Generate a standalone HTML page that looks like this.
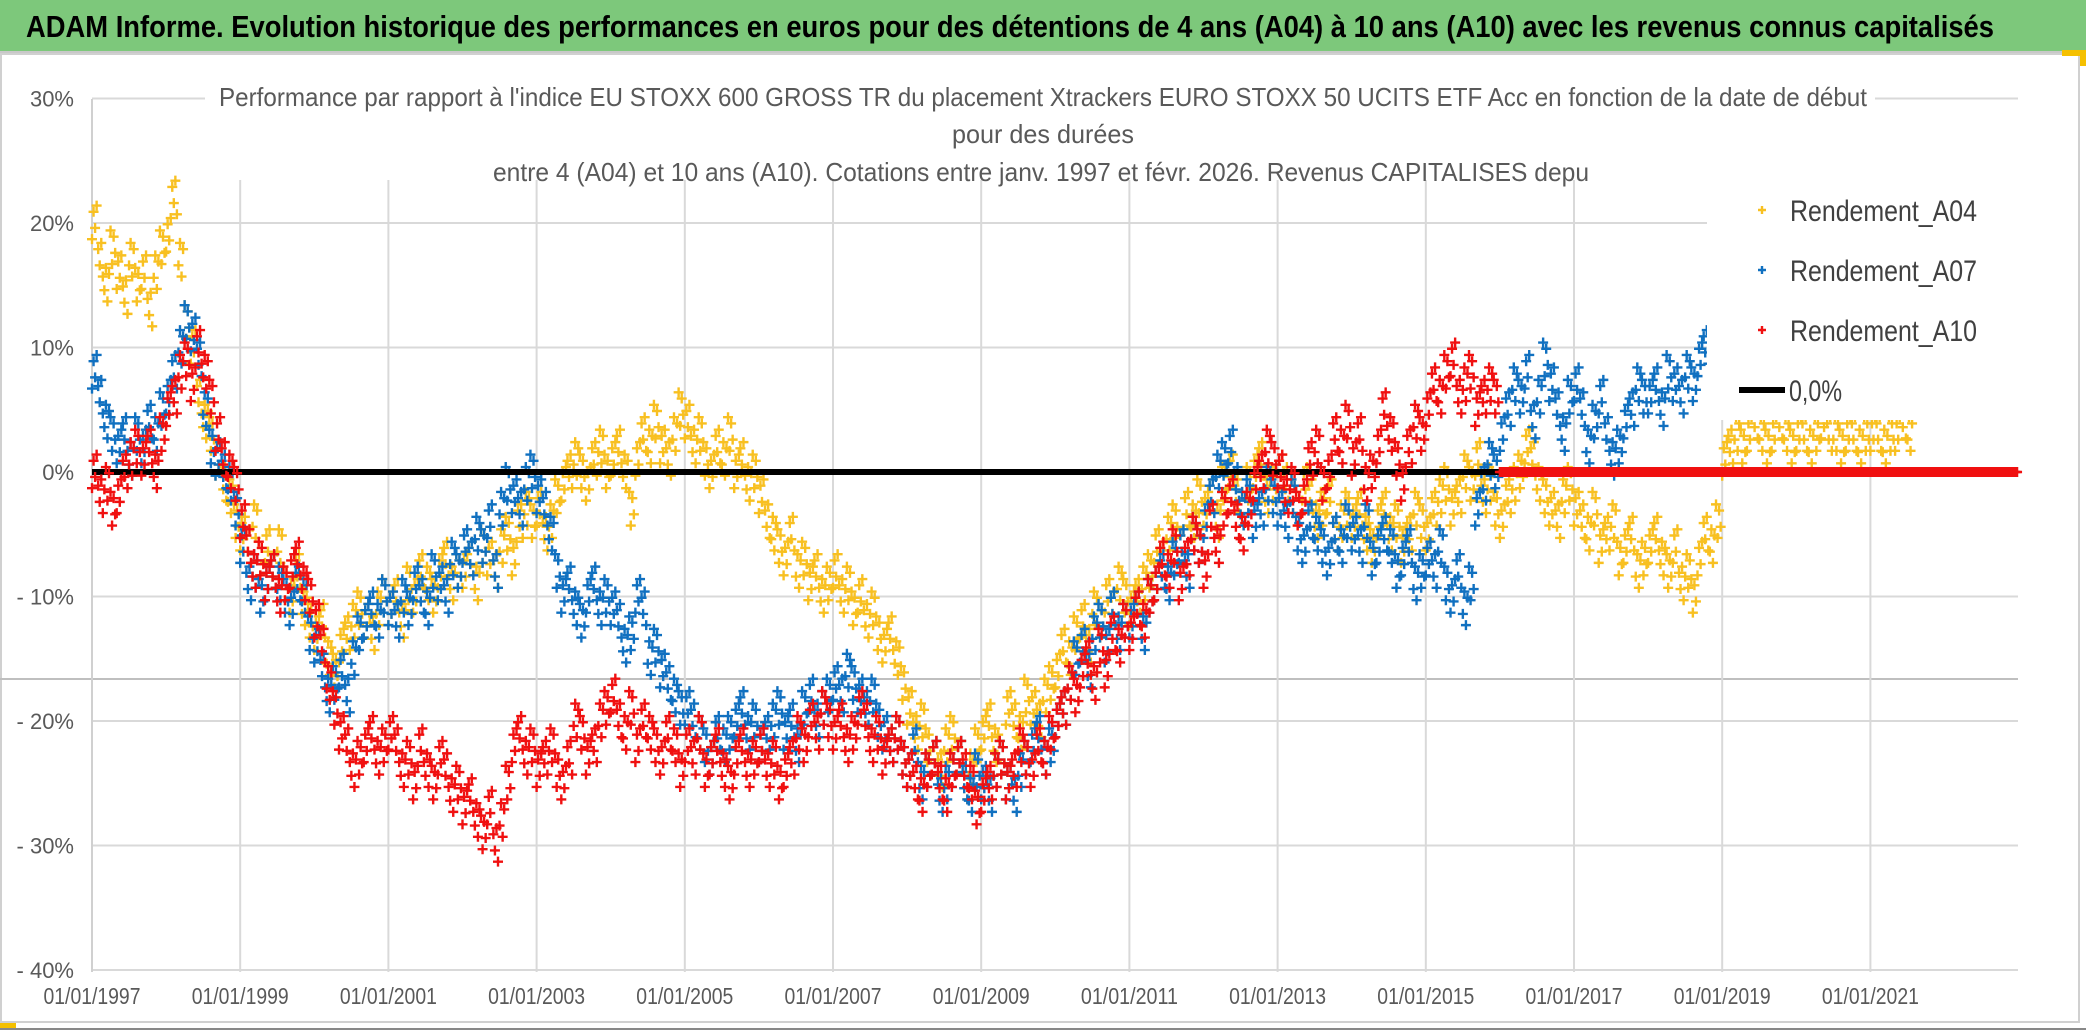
<!DOCTYPE html>
<html><head><meta charset="utf-8"><style>
html,body{margin:0;padding:0;background:#fff;}
svg{display:block;font-family:"Liberation Sans Narrow","Liberation Sans",sans-serif;}
</style></head><body>
<svg id="chart" width="2086" height="1031" viewBox="0 0 2086 1031" xmlns="http://www.w3.org/2000/svg">
<rect x="0" y="0" width="2086" height="1031" fill="#fff"/>
<rect x="0" y="0" width="2086" height="52" fill="#7dc87b"/>
<line x1="0" y1="52" x2="2086" y2="52" stroke="#c8c8c8" stroke-width="2"/>
<text x="1010" y="37" text-anchor="middle" font-size="31" font-weight="bold" fill="#000" textLength="1968" lengthAdjust="spacingAndGlyphs">ADAM Informe. Evolution historique des performances en euros pour des détentions de 4 ans (A04) à 10 ans (A10) avec les revenus connus capitalisés</text>
<rect x="1" y="54" width="2078" height="968" fill="none" stroke="#d0d0d0" stroke-width="2"/>
<rect x="2062" y="50" width="24" height="6" fill="#f5c000"/>
<rect x="2080" y="50" width="6" height="16" fill="#f5c000"/>
<rect x="0" y="1023" width="16" height="6" fill="#f5c000"/>
<line x1="0" y1="1029" x2="2086" y2="1029" stroke="#888" stroke-width="2"/>
<g id="grid"></g>
<g id="series"></g>
<g id="overlay"></g>
</svg>
<script>
const yTicks = [30,20,10,0,-10,-20,-30,-40];
const yTickLabels = ["30%","20%","10%","0%","- 10%","- 20%","- 30%","- 40%"];
const xTicks = [1997,1999,2001,2003,2005,2007,2009,2011,2013,2015,2017,2019,2021];
const xTickLabels = ["01/01/1997","01/01/1999","01/01/2001","01/01/2003","01/01/2005","01/01/2007","01/01/2009","01/01/2011","01/01/2013","01/01/2015","01/01/2017","01/01/2019","01/01/2021"];
const startYear = 1997;
const a04 = [20,17,15,18,16,14,17,15,16,13,16,18,
19,22,17,12,10,6,4,3,1,-1,-2,-4,
-5,-6,-4,-7,-6,-8,-6,-9,-10,-8,-11,-12,
-13,-12,-15,-16,-14,-13,-12,-11,-12,-13,-11,-10,
-11,-10,-12,-9,-10,-8,-9,-10,-8,-7,-9,-8,
-8,-7,-9,-6,-7,-8,-6,-5,-7,-4,-3,-4,
-3,-5,-4,-2,-1,0,1,0,-1,1,2,0,
1,2,0,-3,1,3,2,4,2,1,3,5,
4,2,3,1,0,2,1,3,0,1,-1,0,
-2,-4,-5,-6,-7,-5,-8,-7,-9,-8,-10,-9,
-8,-10,-9,-11,-10,-12,-11,-13,-14,-13,-15,-17,
-19,-21,-20,-22,-23,-24,-22,-21,-23,-25,-24,-22,
-21,-20,-22,-23,-19,-20,-21,-18,-19,-20,-18,-17,
-16,-14,-15,-13,-12,-14,-11,-12,-10,-11,-9,-10,
-11,-10,-9,-8,-6,-7,-5,-4,-6,-3,-4,-2,
-3,-2,-4,-1,0,-2,-3,-1,0,1,-2,-1,
0,-1,-2,-3,-1,-2,-4,-3,-2,-5,-4,-3,
-4,-3,-5,-6,-4,-3,-5,-4,-6,-5,-3,-4,
-5,-3,-2,-1,-3,-2,0,-1,1,-2,-1,-3,
-4,-2,-1,0,2,1,-1,-2,-3,-4,-2,-1,
-3,-4,-5,-3,-6,-5,-4,-7,-6,-5,-8,-7,
-6,-5,-7,-8,-6,-9,-8,-10,-7,-5,-6,-4,
1,2,3,2,3,4,3,2,3,4,3,2,
3,3,2,3,4,3,3,2,3,3,2,3,
3,3,2,3,3,4,3];
const a07 = [8,6,4,3,2,3,1,3,2,4,3,5,
6,8,10,12,11,9,5,2,1,0,-1,-3,
-6,-9,-8,-10,-9,-8,-9,-10,-11,-9,-10,-13,
-14,-16,-18,-17,-16,-18,-15,-13,-12,-11,-12,-10,
-11,-12,-10,-11,-9,-10,-11,-8,-9,-10,-7,-8,
-6,-7,-5,-6,-4,-8,-3,-1,-2,-3,-1,0,
-2,-3,-5,-8,-10,-9,-11,-12,-10,-9,-11,-10,
-11,-12,-14,-13,-10,-11,-15,-14,-16,-17,-18,-19,
-19,-20,-21,-22,-23,-21,-22,-21,-20,-19,-21,-20,
-22,-21,-20,-19,-21,-20,-22,-19,-18,-20,-19,-18,
-17,-18,-16,-17,-18,-19,-18,-20,-21,-22,-21,-23,
-24,-22,-25,-24,-23,-26,-25,-24,-23,-25,-26,-24,
-25,-26,-24,-23,-25,-26,-24,-23,-22,-21,-23,-22,
-20,-19,-17,-15,-14,-16,-13,-12,-14,-11,-13,-12,
-12,-11,-13,-10,-9,-8,-9,-7,-6,-8,-5,-6,
-4,-2,0,1,2,-1,-3,-2,-4,-3,-1,-2,
-3,-4,-2,-5,-6,-4,-5,-6,-7,-5,-6,-4,
-5,-6,-4,-7,-6,-5,-6,-8,-7,-6,-9,-8,
-7,-8,-6,-9,-10,-8,-11,-9,-3,-1,1,0,
3,5,7,6,8,4,6,9,7,5,3,6,
7,5,2,4,6,3,1,2,4,5,7,6,
6,7,5,8,7,6,8,7,9,10];
const a10 = [0,-2,-1,-3,-2,0,1,2,1,2,0,3,
5,6,8,9,7,10,8,6,3,1,0,-1,
-4,-6,-8,-7,-9,-8,-10,-9,-8,-7,-9,-10,
-12,-14,-17,-19,-21,-22,-24,-23,-22,-21,-23,-22,
-21,-22,-24,-23,-25,-22,-24,-25,-23,-24,-26,-25,
-27,-26,-28,-29,-27,-30,-28,-25,-22,-21,-23,-22,
-24,-23,-22,-24,-25,-23,-20,-21,-23,-22,-20,-19,
-18,-20,-21,-19,-22,-20,-21,-22,-23,-21,-22,-24,
-22,-23,-21,-24,-23,-22,-24,-25,-23,-22,-24,-23,
-22,-24,-23,-25,-24,-23,-21,-22,-20,-21,-19,-20,
-21,-20,-22,-21,-19,-20,-22,-21,-23,-22,-21,-23,
-24,-25,-26,-24,-23,-25,-26,-24,-23,-24,-25,-27,
-26,-25,-24,-23,-25,-24,-22,-23,-24,-22,-23,-21,
-20,-19,-17,-18,-16,-15,-17,-14,-16,-13,-14,-12,
-13,-11,-12,-10,-9,-7,-8,-6,-9,-7,-5,-6,
-8,-4,-6,-3,-2,-4,-5,-3,-1,0,2,1,
0,-2,-1,-3,-2,1,2,-1,0,3,2,4,
1,3,-1,0,2,5,3,1,-1,2,4,3,
5,7,6,8,9,6,7,8,5,6,7,6,
0,0,0,0,0,0,0,0,0,0,0,0,
0,0,0,0,0,0,0,0,0,0,0,0,
0,0,0,0,0,0,0,0,0,0,0,0,
0,0,0,0,0,0,0,0,0,0,0,0,
0,0,0,0,0,0,0,0,0,0,0,0,
0,0,0,0,0,0,0,0,0,0,0,0,
0,0,0,0,0,0,0,0,0,0,0,0];
const zeroLine = [0,0];

const NS = "http://www.w3.org/2000/svg";
const X0 = 92, PX_YEAR = 74.1, Y0 = 472, PX_PCT = 12.45;
const PLOT_L = 92, PLOT_R = 2018, PLOT_T = 99, PLOT_B = 972;
function xScale(t){ return X0 + (t - 1997) * PX_YEAR; }
function yScale(v){ return Y0 - v * PX_PCT; }
function mk(tag, attrs, parent){ const e = document.createElementNS(NS, tag); for (const k in attrs) e.setAttribute(k, attrs[k]); parent.appendChild(e); return e; }
const grid = document.getElementById('grid');
const series = document.getElementById('series');
const overlay = document.getElementById('overlay');

yTicks.forEach((v, i) => {
  const l = mk('line', {x1: PLOT_L, x2: PLOT_R, y1: yScale(v), y2: yScale(v), stroke: '#d9d9d9', 'stroke-width': 2}, grid);
  
  
  const t = mk('text', {x: 74, y: yScale(v) + 8, 'text-anchor': 'end', 'font-size': 22, fill: '#595959'}, grid);
  t.textContent = yTickLabels[i];
  
  
});
const odd = mk('line', {x1: 0, x2: PLOT_R, y1: 679, y2: 679, stroke: '#bfbfbf', 'stroke-width': 2}, grid);


xTicks.forEach((t, i) => {
  const l = mk('line', {x1: xScale(t), x2: xScale(t), y1: 180, y2: PLOT_B, stroke: '#d9d9d9', 'stroke-width': 2}, grid);
  
  
  const tx = mk('text', {x: xScale(t), y: 1004, 'text-anchor': 'middle', 'font-size': 23, fill: '#595959', textLength: 97, lengthAdjust: 'spacingAndGlyphs'}, grid);
  tx.textContent = xTickLabels[i];
  
  
});
const ax = mk('line', {x1: PLOT_L, x2: PLOT_L, y1: 99, y2: PLOT_B, stroke: '#d0d0d0', 'stroke-width': 2}, grid);



function plus(g, cx, cy, color, s){
  return mk('path', {d: `M${cx-s},${cy}H${cx+s}M${cx},${cy-s}V${cy+s}`, stroke: color, 'stroke-width': 2.4, fill: 'none'}, g);
}
const jitterT = [0, 0.25, 0.5, 0.75];
const jitterV = [-1.3, 0.9, -0.4, 1.4];
function drawSeries(arr, color, name){
  const g = mk('g', {}, series);
  
  
  arr.forEach((v, i) => {
    const t = startYear + i / 12;
    for (let k = 0; k < 4; k++) {
      const vv = v === 0 && name === 'series-rendement-a10' && i >= 228 ? 0 : v + jitterV[(k + i) % 4];
      plus(g, xScale(t + jitterT[k] / 12), yScale(vv), color, 5);
    }
  });
}
drawSeries(a04, '#f8c021', 'series-rendement-a04');
drawSeries(a07, '#1070c0', 'series-rendement-a07');
const zl = mk('line', {x1: xScale(1997), x2: PLOT_R, y1: yScale(zeroLine[0]), y2: yScale(zeroLine[1]), stroke: '#000', 'stroke-width': 6}, series);


drawSeries(a10, '#f01010', 'series-rendement-a10');

const tb = mk('rect', {x: 205, y: 70, width: 1670, height: 110, fill: '#fff'}, overlay);


const titles = [
  ["Performance par rapport à l'indice EU STOXX 600 GROSS TR  du placement Xtrackers EURO STOXX 50 UCITS ETF Acc en fonction de la date de début", 1043, 106, 1648],
  ["pour des durées", 1043, 143, 182],
  ["entre 4 (A04) et 10 ans (A10). Cotations entre janv. 1997 et févr. 2026. Revenus CAPITALISES depu", 1041, 181, 1096]
];
titles.forEach(tt => {
  const t = mk('text', {x: tt[1], y: tt[2], 'text-anchor': 'middle', 'font-size': 26, fill: '#595959', textLength: tt[3], lengthAdjust: 'spacingAndGlyphs'}, overlay);
  t.textContent = tt[0];
  
  
});
const lg = mk('g', {}, overlay);


mk('rect', {x: 1707, y: 180, width: 312, height: 240, fill: '#fff'}, lg);
const legendNames = ["Rendement_A04", "Rendement_A07", "Rendement_A10"];
const legendColors = ['#f8c021', '#1070c0', '#f01010'];
legendNames.forEach((n, i) => {
  const y = 210 + i * 60;
  const e = mk('g', {}, lg);
  
  
  plus(e, 1762, y, legendColors[i], 4);
  const t = mk('text', {x: 1790, y: y + 11, 'font-size': 30, fill: '#404040', textLength: 187, lengthAdjust: 'spacingAndGlyphs'}, e);
  t.textContent = n;
});
const ze = mk('g', {}, lg);


mk('line', {x1: 1739, x2: 1785, y1: 390, y2: 390, stroke: '#000', 'stroke-width': 6}, ze);
const zt = mk('text', {x: 1789, y: 401, 'font-size': 30, fill: '#404040', textLength: 53, lengthAdjust: 'spacingAndGlyphs'}, ze);
zt.textContent = "0,0%";
</script>
</body></html>
